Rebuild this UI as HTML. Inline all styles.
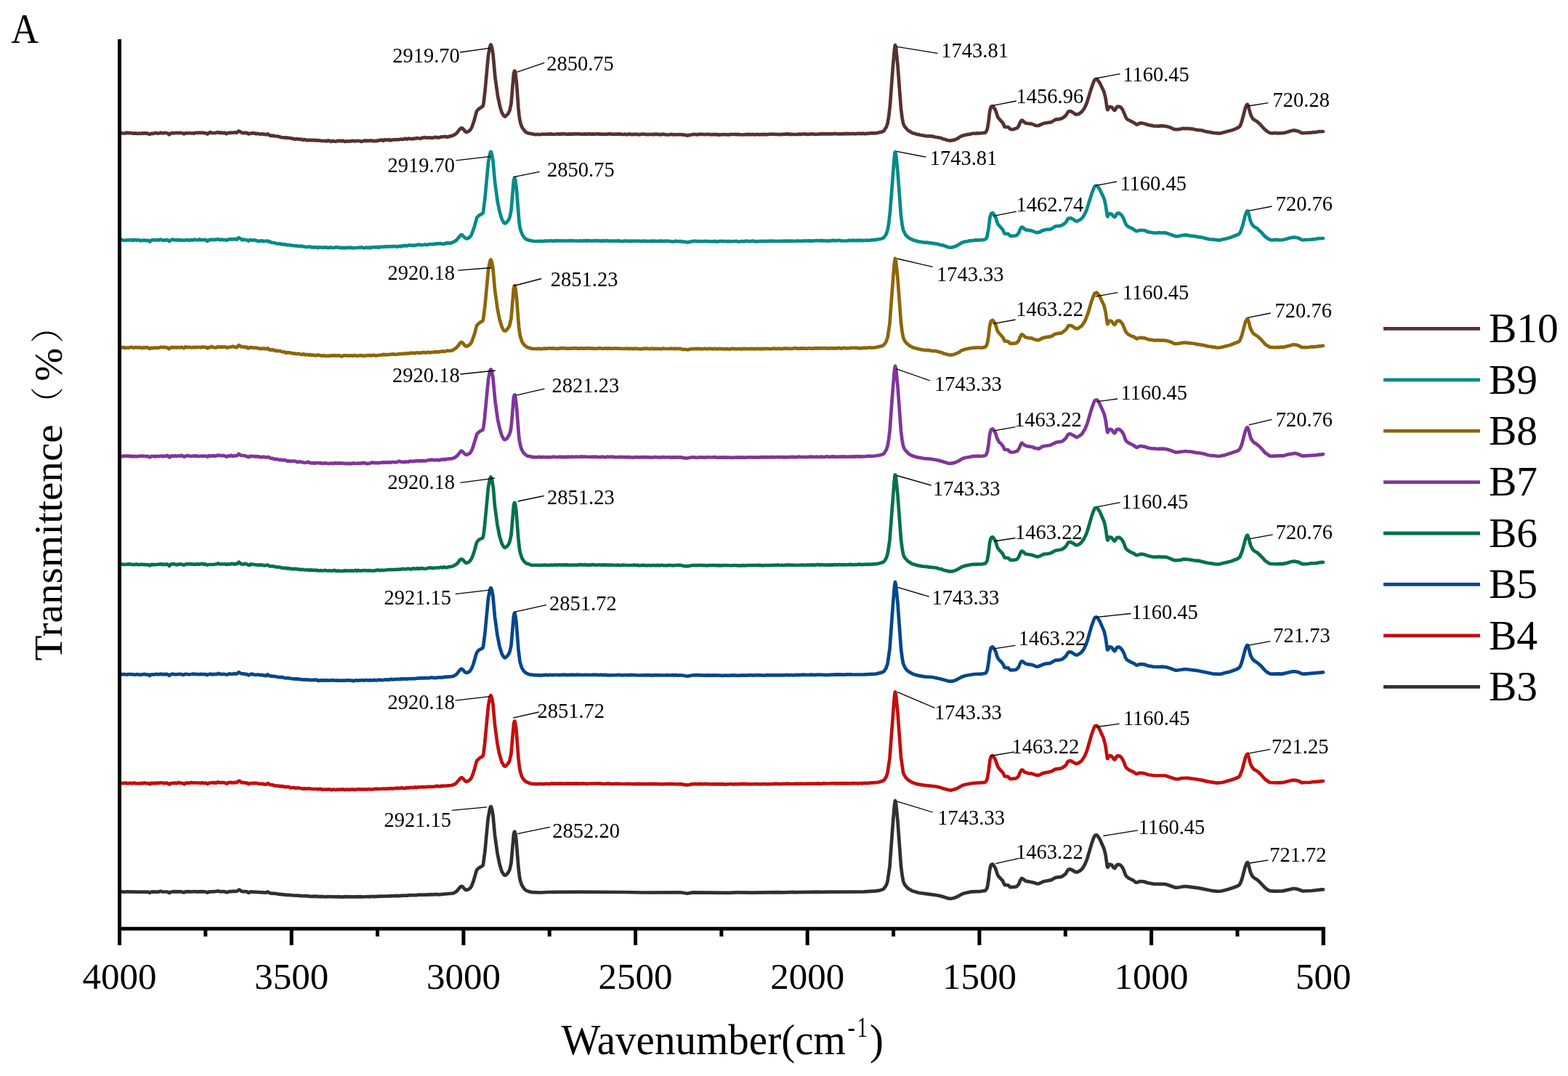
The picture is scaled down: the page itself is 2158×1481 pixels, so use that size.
<!DOCTYPE html>
<html><head><meta charset="utf-8"><style>
html,body{margin:0;padding:0;background:#fff;}
svg{display:block;}
text{font-family:"Liberation Serif","Noto Serif CJK SC",serif;fill:#000;}
</style></head><body>
<svg width="2158" height="1481" viewBox="0 0 2158 1481">
<rect width="2158" height="1481" fill="#fff"/>
<g fill="none" stroke-width="4.7" stroke-linejoin="round" stroke-linecap="round">
<path d="M165.0,183.3 167.0,183.0 168.5,183.5 172.5,183.3 174.0,182.6 176.5,183.3 178.0,182.8 183.0,183.6 186.0,183.4 189.5,183.9 191.0,183.5 193.5,183.9 196.5,183.2 198.0,183.8 200.5,183.1 202.0,183.9 203.5,183.7 206.0,185.0 207.5,183.8 211.5,183.8 214.0,182.8 215.0,182.9 216.5,183.8 219.5,183.3 221.0,182.6 224.0,183.5 227.0,182.7 231.0,183.5 232.5,185.2 233.0,185.3 234.5,183.8 236.5,182.8 239.0,183.4 242.5,182.8 246.0,183.2 247.5,182.7 251.5,183.3 253.0,184.4 255.5,183.1 258.0,183.5 260.0,183.0 263.0,183.5 265.0,183.2 267.0,183.8 268.5,182.7 270.0,183.0 271.5,182.5 273.0,183.0 275.0,182.5 277.5,183.0 279.0,182.6 282.0,183.4 283.5,183.2 285.5,184.5 289.5,181.8 291.0,182.9 295.5,183.2 300.0,181.9 302.0,183.1 303.5,182.4 307.5,183.1 309.5,182.6 311.5,184.2 313.5,183.0 315.0,183.1 316.5,182.6 318.0,182.9 319.0,182.5 320.5,182.7 323.0,182.2 325.5,182.8 328.5,180.4 334.0,183.1 336.0,183.2 337.5,182.5 338.5,183.2 340.0,182.9 342.0,184.5 344.0,183.5 345.5,183.9 348.0,182.9 349.5,183.7 351.0,183.4 352.5,184.4 354.0,183.7 356.0,184.0 357.5,184.8 361.0,184.2 362.5,184.9 364.0,184.7 366.0,185.4 368.5,184.3 370.5,186.1 372.5,186.4 373.0,186.9 374.0,187.0 375.5,186.5 377.5,187.3 382.0,187.5 387.0,189.1 391.5,189.3 393.0,189.7 394.5,189.4 397.0,190.0 398.0,189.8 401.0,190.6 403.0,190.5 404.0,191.1 406.5,191.6 408.5,190.9 409.5,191.6 412.5,191.6 414.0,192.1 415.5,191.8 417.0,192.6 418.5,191.9 420.0,192.5 421.0,192.4 422.5,193.3 424.5,192.6 428.0,193.1 429.5,192.8 431.0,193.1 434.0,192.9 436.0,193.4 437.5,193.2 444.0,194.0 447.5,193.9 448.5,194.4 452.5,193.4 455.5,194.8 457.5,193.8 459.0,194.4 462.5,194.6 464.5,193.8 466.0,194.1 468.5,193.6 470.5,194.3 472.5,193.7 474.5,194.9 477.0,194.2 478.5,194.7 482.0,194.1 483.5,194.3 485.5,193.7 488.0,194.4 491.0,193.8 495.5,194.0 497.0,194.9 502.0,193.4 505.0,194.1 506.5,193.6 508.0,193.9 511.0,193.3 512.5,194.2 515.5,193.8 518.5,194.2 520.0,193.2 521.5,193.5 523.0,192.9 525.0,192.7 526.0,192.7 527.5,193.7 529.5,192.3 534.0,192.6 536.0,192.2 537.5,193.4 539.0,192.7 542.5,192.0 544.0,192.5 546.5,192.0 549.0,192.2 551.5,191.5 554.0,192.0 557.5,190.8 558.5,190.9 560.0,191.6 562.0,190.6 568.0,191.3 570.0,190.5 572.5,190.7 574.0,190.0 579.0,190.8 580.5,189.9 584.5,189.1 588.5,189.8 591.0,189.3 592.5,189.8 594.5,189.5 595.5,189.9 599.0,188.7 601.0,189.4 602.5,189.1 603.5,189.5 606.0,188.7 613.5,187.9 616.0,188.7 617.0,188.1 622.5,186.9 626.0,185.2 629.0,182.9 632.5,178.0 635.0,176.2 636.0,176.3 637.0,177.1 640.5,181.1 641.5,181.8 643.0,181.7 645.0,180.7 647.5,178.5 649.5,174.8 652.5,166.2 656.0,153.2 658.5,150.2 664.5,146.3 665.5,142.5 667.5,125.5 672.0,76.3 674.0,65.3 675.0,62.1 675.5,61.5 676.0,61.9 677.0,65.2 678.5,74.0 681.5,107.2 685.0,131.9 688.0,146.1 690.5,154.7 693.0,158.9 694.0,160.0 695.0,160.5 699.0,157.0 701.5,152.0 703.5,142.7 707.0,101.1 708.0,97.8 708.5,97.6 709.5,102.1 711.0,114.7 713.5,149.4 714.5,158.8 715.5,165.8 717.0,171.4 719.0,176.3 723.5,181.8 727.0,183.4 737.5,185.3 740.5,184.8 743.0,185.2 747.0,184.5 750.5,184.8 757.5,184.3 762.5,185.0 767.0,184.2 768.5,184.7 770.5,184.4 772.0,184.7 774.0,184.1 781.5,184.9 783.5,184.3 788.0,184.7 790.0,184.1 791.5,184.4 797.5,184.3 800.5,184.8 805.5,184.4 808.0,184.8 810.0,184.1 813.0,184.8 815.0,184.4 819.5,184.6 823.5,184.2 825.0,184.7 829.0,184.5 830.5,185.0 833.0,184.5 834.5,184.8 839.5,184.1 842.0,184.8 853.5,184.4 855.0,184.9 857.5,185.0 860.0,184.6 861.5,185.1 863.5,185.2 866.0,184.3 869.5,185.2 876.0,184.6 878.0,185.3 883.5,184.6 887.5,184.7 889.5,185.3 892.0,184.8 893.5,185.2 896.0,184.8 899.0,185.3 900.5,184.7 907.0,184.9 909.0,185.5 911.5,184.7 915.0,185.0 916.5,185.5 921.0,185.4 924.0,184.8 927.5,185.3 936.5,185.0 940.0,185.6 941.5,185.4 945.5,186.6 955.0,184.7 959.0,185.4 963.0,184.7 971.5,185.1 974.0,184.7 979.0,185.3 980.5,185.0 983.5,185.2 985.0,184.9 986.5,185.3 988.0,185.1 990.0,185.6 994.5,185.0 1003.5,185.4 1005.5,184.8 1007.0,185.0 1011.5,184.8 1013.0,185.2 1015.0,184.9 1021.0,185.5 1029.5,184.8 1034.5,185.2 1036.0,184.9 1037.0,185.2 1038.5,185.0 1040.0,185.4 1042.0,184.7 1044.0,185.3 1051.0,184.8 1055.5,185.2 1061.0,184.5 1073.0,185.2 1084.5,184.4 1087.5,185.1 1089.0,184.7 1091.5,185.0 1098.5,184.8 1099.5,184.4 1101.0,184.9 1102.5,184.6 1104.0,184.8 1107.0,184.3 1111.0,184.8 1118.0,184.3 1120.5,184.8 1126.0,184.7 1131.5,184.1 1146.0,184.4 1149.0,183.9 1153.0,184.3 1156.5,184.2 1158.0,184.5 1160.0,184.0 1161.5,184.4 1163.0,183.8 1173.0,184.2 1174.5,183.8 1176.0,184.3 1182.0,183.6 1185.0,184.1 1187.0,183.6 1190.0,184.1 1193.0,183.9 1194.5,183.4 1196.0,183.8 1198.5,183.2 1203.5,183.3 1208.5,182.8 1211.5,181.8 1213.0,181.7 1215.5,180.8 1216.5,180.0 1220.0,174.6 1221.5,169.9 1223.0,161.8 1225.0,144.9 1228.5,96.7 1231.0,67.9 1232.0,62.0 1233.0,65.8 1235.5,89.7 1240.0,149.5 1241.5,161.4 1243.0,169.7 1245.0,174.1 1249.5,179.3 1256.0,183.3 1258.0,183.5 1261.5,184.8 1265.0,185.2 1266.5,186.0 1269.0,186.1 1276.5,187.5 1278.5,187.2 1285.0,187.9 1286.5,188.5 1295.5,190.0 1297.5,191.2 1300.5,191.7 1304.0,193.0 1308.0,193.6 1314.0,192.4 1318.5,190.3 1320.5,188.7 1325.0,186.6 1331.0,185.2 1335.5,184.6 1337.5,183.9 1340.5,183.5 1343.0,184.0 1345.0,183.0 1346.5,183.6 1348.0,183.5 1356.0,182.6 1358.0,179.9 1359.0,176.7 1360.5,167.6 1362.0,154.7 1363.0,149.6 1364.0,146.8 1365.5,146.0 1367.0,146.7 1370.0,151.6 1373.5,161.8 1380.5,169.6 1382.5,174.7 1387.5,174.9 1390.5,177.7 1392.5,178.1 1395.5,177.8 1400.0,176.1 1402.0,173.5 1404.0,168.6 1406.0,165.6 1407.5,166.0 1411.0,169.2 1416.0,170.2 1419.5,170.4 1425.5,172.8 1429.0,173.0 1436.0,169.8 1447.0,168.1 1451.5,165.1 1453.5,164.2 1456.0,164.4 1461.5,163.0 1465.5,160.3 1467.5,158.1 1470.0,153.9 1471.5,153.2 1472.5,152.9 1474.0,153.3 1481.0,157.7 1484.0,157.0 1486.0,156.1 1489.0,153.6 1491.5,150.3 1493.5,146.8 1496.0,141.0 1501.0,124.6 1505.0,113.1 1506.5,109.9 1508.5,108.8 1509.5,109.1 1511.0,110.5 1514.0,114.9 1519.5,126.5 1521.5,134.7 1524.0,150.7 1524.5,151.1 1526.5,147.4 1527.5,147.0 1530.5,147.8 1533.0,151.3 1534.0,151.9 1535.0,151.0 1536.5,147.9 1537.5,146.7 1541.5,146.9 1543.5,148.7 1545.0,150.9 1550.0,162.7 1552.0,164.5 1560.5,168.9 1564.0,171.3 1565.0,171.4 1567.5,170.1 1570.5,169.3 1577.0,170.8 1579.5,171.8 1581.0,171.9 1584.0,172.8 1585.5,172.7 1587.0,173.3 1595.5,173.6 1598.0,173.1 1605.0,173.8 1611.5,175.7 1615.0,177.6 1618.0,178.2 1621.0,178.2 1628.5,176.7 1630.0,177.1 1631.5,176.8 1638.5,177.2 1643.5,177.9 1645.5,178.6 1655.5,179.7 1657.5,180.6 1670.0,182.9 1678.0,183.6 1680.0,183.3 1696.5,178.9 1701.0,177.1 1706.0,174.4 1707.5,171.6 1709.0,167.3 1714.0,148.4 1715.5,145.0 1716.5,143.7 1717.0,143.8 1718.0,146.0 1721.5,158.6 1724.0,163.1 1725.0,164.2 1729.5,166.9 1734.0,170.7 1740.0,177.5 1743.5,180.6 1745.5,181.9 1748.5,183.2 1753.0,183.3 1755.0,182.9 1757.5,183.4 1762.0,183.3 1763.5,183.0 1766.0,183.2 1773.5,181.3 1775.5,180.4 1781.0,179.4 1786.0,180.4 1789.0,181.5 1790.5,182.7 1792.5,183.3 1795.0,182.9 1799.5,183.0 1801.0,182.6 1805.0,182.6 1807.5,181.9 1809.5,182.2 1814.5,181.2 1821.0,181.0" stroke="#553232"/>
<path d="M165.0,329.7 167.0,329.6 169.5,331.0 180.0,330.1 182.5,331.1 184.0,329.9 185.0,330.3 186.5,330.0 188.0,330.9 190.0,330.2 191.0,330.3 193.5,331.4 195.5,330.6 197.0,331.0 198.5,330.6 202.5,331.1 204.0,330.8 206.0,332.6 208.5,330.6 210.5,330.1 213.0,330.5 215.5,330.2 218.5,330.6 220.0,329.7 221.5,329.6 224.0,330.8 230.5,330.2 233.0,332.3 235.0,330.6 237.0,329.7 239.0,329.8 240.5,330.5 244.0,330.1 245.5,330.6 248.0,330.1 249.5,330.7 252.0,330.5 253.0,331.0 258.0,330.0 260.5,331.1 262.5,330.0 265.0,330.6 267.5,329.5 269.5,330.2 273.0,330.3 274.5,329.1 276.5,330.4 283.0,329.9 284.5,331.6 285.5,332.0 287.5,330.3 289.0,330.2 290.5,329.6 292.0,330.1 293.5,329.7 295.0,330.2 296.5,329.7 298.5,329.7 300.0,329.0 302.5,330.1 305.5,329.6 308.0,330.2 310.5,330.2 312.0,330.9 314.0,329.7 316.0,329.2 317.5,329.4 319.5,329.1 321.5,329.4 324.0,328.9 326.0,329.9 327.5,327.9 328.5,327.3 330.5,328.1 333.0,330.3 335.5,329.4 336.5,330.0 340.0,330.4 342.0,331.6 344.0,330.1 347.5,330.7 350.0,330.3 354.5,331.8 359.0,331.7 360.5,331.3 363.0,332.2 368.0,331.5 369.0,331.9 370.0,333.0 371.5,332.6 373.5,333.8 376.5,334.0 383.0,335.7 385.0,335.2 388.0,336.3 389.0,336.1 391.0,336.6 393.0,336.3 394.5,337.3 398.5,337.0 400.0,337.8 401.5,337.7 405.5,338.5 407.0,338.1 409.5,338.8 414.5,338.7 416.0,339.3 417.5,339.0 419.0,339.6 423.0,340.0 425.0,339.6 427.0,339.7 429.0,340.5 430.5,340.2 431.5,340.7 434.5,340.1 437.5,341.2 439.0,340.2 443.0,340.8 448.0,340.3 449.5,340.9 451.5,340.7 453.0,341.1 455.0,340.3 456.5,340.9 460.0,341.0 462.5,340.1 465.5,340.7 467.0,340.5 469.0,341.4 470.5,340.9 472.5,341.2 473.0,340.9 475.5,341.5 477.5,340.6 481.0,341.2 482.5,340.5 484.0,341.1 486.0,341.1 487.5,341.5 489.0,341.0 492.5,341.0 494.0,340.5 495.5,340.9 498.0,340.2 499.5,341.0 502.0,341.4 503.5,340.7 505.5,340.7 507.0,341.2 508.5,340.5 510.5,341.3 512.5,340.0 515.0,340.5 516.5,340.1 519.0,340.5 520.0,339.8 521.5,340.8 523.5,339.6 526.5,339.9 529.5,339.3 531.0,339.9 532.5,339.3 536.0,339.3 537.0,339.0 538.5,339.4 540.5,339.3 542.0,338.8 546.0,339.6 549.5,338.9 551.5,339.4 553.5,338.2 556.0,338.6 557.5,337.6 559.0,338.3 560.5,338.5 563.0,337.1 564.5,337.8 568.0,337.6 570.0,338.2 572.0,337.4 577.0,336.6 580.0,337.5 584.0,336.7 586.0,336.7 587.5,337.2 589.0,336.5 591.0,336.2 593.5,336.0 596.0,336.4 597.5,335.6 599.5,336.0 601.0,335.4 606.5,335.2 609.0,335.8 613.0,335.3 614.5,334.3 619.5,334.7 623.5,333.4 628.0,330.9 633.5,324.1 635.0,323.0 636.5,323.7 639.0,326.5 641.5,328.4 644.0,328.1 647.5,325.4 649.0,322.8 652.5,313.2 656.5,299.2 659.0,296.6 664.0,293.9 665.0,292.4 667.5,272.4 672.0,223.8 674.0,212.7 675.0,209.5 675.5,209.0 676.0,209.5 677.0,212.7 678.5,221.0 681.0,249.6 684.5,275.8 687.0,288.9 690.5,301.4 693.5,306.6 694.5,307.3 695.5,307.3 696.5,306.8 699.0,304.0 700.5,301.6 701.5,299.0 703.5,289.8 707.0,248.1 708.0,245.0 708.5,244.8 709.5,249.1 711.0,262.0 714.5,305.7 715.5,312.6 717.0,318.5 719.5,324.0 721.5,326.8 724.0,329.2 727.5,330.6 734.5,332.0 741.5,332.1 743.0,331.8 747.5,332.2 750.0,331.6 755.5,331.7 758.5,331.2 762.5,331.9 764.0,331.3 782.0,331.5 785.0,331.1 791.0,331.5 797.5,331.6 798.5,331.3 801.0,331.8 803.5,331.2 807.0,331.6 809.0,331.1 813.5,331.6 823.0,331.2 827.0,331.9 828.5,331.3 833.0,331.7 835.0,331.1 837.0,331.7 844.0,331.6 845.0,331.9 852.0,331.4 853.5,332.0 857.0,332.2 858.5,331.7 862.5,331.6 864.5,332.0 867.5,331.6 869.5,332.1 873.0,331.5 875.0,331.9 880.0,331.5 881.5,332.3 886.0,331.6 889.0,332.1 890.5,331.8 892.0,332.0 895.0,331.8 896.5,332.2 898.0,331.7 906.0,332.1 909.0,331.6 914.5,332.1 916.5,331.5 918.0,331.9 920.0,331.7 925.5,332.6 927.5,332.5 930.0,331.7 932.0,332.4 936.5,332.0 939.5,332.9 941.0,332.5 945.0,333.4 947.0,333.4 954.5,331.9 957.5,331.9 959.0,332.3 960.5,331.9 963.0,332.4 964.5,332.0 966.5,332.3 970.5,331.8 976.5,332.3 984.5,332.1 987.0,332.6 992.0,331.7 994.0,332.2 1000.0,332.1 1001.5,332.5 1003.0,331.9 1004.5,332.5 1010.0,332.0 1011.5,332.3 1013.5,331.9 1016.5,332.7 1022.0,332.0 1023.5,332.5 1027.0,331.6 1031.5,332.3 1036.5,331.6 1039.0,332.4 1052.5,331.9 1055.0,332.3 1056.5,331.8 1058.0,332.0 1060.0,331.6 1070.5,332.0 1072.5,331.7 1074.5,332.0 1078.5,331.6 1084.0,331.8 1085.0,331.5 1087.0,331.9 1090.5,331.6 1092.0,332.0 1097.5,331.5 1103.0,331.9 1104.5,331.5 1107.5,331.6 1109.0,331.2 1111.5,331.7 1114.0,331.4 1118.0,331.6 1124.5,331.0 1128.0,331.5 1130.0,330.9 1132.0,331.4 1135.0,331.2 1137.5,331.7 1139.0,331.3 1140.5,331.6 1146.5,330.9 1151.5,331.3 1153.0,330.9 1155.5,330.9 1157.5,331.3 1166.0,331.5 1169.0,330.7 1172.0,331.2 1174.0,330.6 1176.5,331.2 1179.5,330.8 1181.0,331.1 1182.5,330.6 1185.0,331.2 1186.0,330.9 1188.0,331.1 1194.0,330.7 1196.0,331.0 1199.5,330.3 1202.5,330.4 1212.5,328.8 1216.5,327.0 1219.5,322.6 1221.5,316.9 1223.0,309.0 1225.0,291.7 1230.5,220.3 1231.5,210.6 1232.0,209.1 1232.5,210.1 1233.5,216.6 1235.5,236.4 1240.0,296.5 1241.5,308.4 1243.0,316.5 1246.5,323.5 1250.0,326.7 1253.5,328.9 1258.0,331.0 1260.0,331.1 1261.5,331.9 1266.0,332.9 1269.0,333.1 1271.5,333.8 1274.5,333.7 1287.0,335.3 1291.0,336.1 1295.5,337.5 1297.0,337.3 1305.0,340.2 1307.5,340.6 1311.0,340.3 1315.0,339.0 1318.0,337.6 1323.0,334.4 1328.0,332.5 1331.0,332.3 1334.0,331.4 1339.0,331.2 1342.5,330.4 1346.0,330.6 1348.5,330.2 1350.0,330.5 1355.5,329.7 1357.0,328.5 1358.5,325.8 1360.5,314.6 1362.5,298.9 1364.0,294.1 1366.0,292.9 1367.0,293.8 1370.5,299.5 1372.0,305.1 1373.5,308.7 1380.0,316.0 1382.5,321.6 1387.5,321.8 1390.0,324.4 1391.0,324.8 1397.0,324.5 1399.5,323.6 1402.0,320.8 1404.0,315.6 1405.5,313.1 1406.5,312.5 1408.0,313.2 1411.0,316.1 1420.0,317.6 1426.5,320.1 1427.5,320.1 1431.0,319.4 1435.0,317.1 1441.0,315.8 1445.0,315.8 1447.0,315.0 1452.5,311.5 1455.5,311.0 1457.5,311.3 1459.0,310.6 1461.0,310.4 1466.0,307.0 1467.5,305.1 1469.5,301.5 1470.5,300.6 1473.5,300.2 1477.5,302.1 1480.0,304.1 1482.0,304.7 1487.5,301.8 1489.5,299.9 1492.0,296.2 1495.5,288.9 1502.5,266.6 1506.0,257.5 1507.0,256.1 1509.5,255.7 1511.5,257.6 1513.5,260.8 1518.0,269.9 1520.0,274.9 1521.5,281.5 1524.0,297.7 1524.5,298.0 1526.5,294.2 1527.0,293.9 1530.0,294.7 1532.5,297.8 1534.0,298.8 1535.0,297.8 1537.5,293.7 1539.0,293.4 1541.0,293.9 1543.0,295.4 1544.5,297.3 1546.5,301.1 1549.0,307.7 1550.5,310.0 1553.0,312.1 1559.0,314.8 1562.5,317.5 1564.0,318.2 1568.5,316.9 1574.5,317.0 1576.0,317.3 1579.5,319.1 1588.0,320.5 1591.5,320.7 1595.0,320.0 1596.5,320.5 1602.5,320.4 1605.0,320.7 1618.0,325.3 1622.0,325.2 1626.5,324.0 1632.0,323.4 1640.0,324.9 1643.0,324.8 1647.5,325.9 1654.0,326.7 1664.5,329.4 1669.5,329.6 1677.5,330.7 1680.0,330.4 1683.0,329.3 1685.0,329.2 1693.0,327.0 1704.0,322.8 1706.0,321.2 1707.0,319.6 1710.0,311.3 1714.0,295.7 1716.0,290.9 1717.0,290.3 1718.5,294.1 1721.0,304.2 1723.5,309.4 1726.0,312.0 1730.5,314.5 1733.5,317.7 1736.0,319.7 1740.5,325.0 1746.0,329.1 1750.0,330.4 1757.0,329.9 1761.5,330.5 1766.0,330.0 1777.5,327.0 1782.5,326.7 1787.5,327.8 1792.0,330.1 1794.5,330.3 1797.0,329.8 1800.0,330.0 1810.5,329.2 1813.5,328.3 1821.0,328.0" stroke="#058a8a"/>
<path d="M165.0,478.0 167.5,478.4 170.0,477.9 171.5,479.1 173.0,478.5 177.0,478.6 181.0,477.7 183.5,478.6 185.5,478.6 187.0,478.1 188.5,478.5 191.5,478.2 196.5,478.8 198.0,478.2 199.5,478.7 201.5,478.0 203.5,478.4 206.0,479.9 208.5,478.6 211.0,479.1 213.0,478.5 214.5,478.9 216.0,478.5 217.5,478.9 221.5,477.7 224.0,478.2 226.5,477.9 230.5,478.5 232.5,480.2 233.0,480.1 234.5,478.7 236.5,477.8 238.5,478.4 241.0,478.0 242.5,478.7 244.0,478.0 247.5,478.4 249.5,477.9 251.0,478.1 253.0,479.4 255.0,477.3 255.5,477.3 257.0,478.0 258.5,478.2 260.0,477.7 262.5,478.3 268.0,477.9 270.0,478.3 272.0,477.8 275.0,478.0 276.0,478.4 278.0,477.6 280.5,477.5 282.0,478.0 283.5,477.8 285.0,479.1 286.0,479.4 287.5,478.0 289.5,478.1 291.5,476.8 293.0,477.9 296.0,478.5 298.0,478.3 300.0,477.2 302.0,477.9 304.0,477.3 307.0,477.6 308.5,477.4 310.5,477.5 312.5,478.8 314.5,477.8 319.0,477.4 320.5,476.7 325.5,478.4 326.5,477.7 328.0,475.6 329.0,475.1 332.0,477.4 334.0,477.1 338.5,478.1 339.5,477.7 341.5,479.3 344.0,478.1 348.5,478.6 352.0,478.5 355.0,479.4 357.0,479.5 358.5,480.2 359.5,479.8 361.5,480.0 363.0,479.3 365.0,480.2 366.0,480.3 367.0,480.1 368.5,479.2 370.5,481.5 372.0,481.1 373.5,481.8 376.0,481.4 379.5,483.2 381.0,482.5 383.5,483.2 385.0,483.0 388.0,484.1 391.5,484.4 393.5,485.7 395.0,485.1 396.5,485.5 397.5,485.1 400.5,486.1 402.0,486.0 403.0,486.6 404.5,486.4 409.0,487.2 411.0,486.7 414.5,488.2 417.5,487.2 420.0,488.4 422.5,487.9 425.0,488.8 426.5,487.9 428.0,488.9 431.0,488.6 432.5,489.3 434.0,489.0 435.5,489.3 437.5,488.4 441.5,489.6 446.0,489.3 447.5,489.9 450.0,489.9 451.5,489.5 453.5,490.0 456.0,489.3 458.0,489.6 459.0,489.2 463.0,489.7 466.5,489.2 470.5,490.6 473.5,489.2 476.0,489.5 477.5,489.2 480.0,489.8 481.0,489.4 482.5,489.7 484.0,489.3 486.0,489.8 488.0,488.9 490.5,489.9 497.5,489.1 500.0,489.9 506.0,489.1 507.5,489.0 509.0,489.5 510.5,488.9 512.0,489.4 514.5,488.8 517.5,489.7 521.0,488.8 525.5,488.6 527.0,487.8 529.0,488.4 531.0,487.9 532.5,488.3 541.5,487.4 545.0,488.0 550.5,486.9 552.5,487.1 557.0,486.7 558.5,487.0 561.0,486.1 563.5,486.5 565.5,485.5 567.5,486.2 569.5,485.7 571.0,486.3 572.0,485.7 574.5,485.3 577.0,486.0 578.5,485.3 579.5,485.6 581.5,485.4 583.0,484.8 584.5,485.4 587.5,485.3 589.5,484.7 591.5,485.3 597.0,484.6 598.5,484.0 600.0,484.7 602.5,484.1 604.0,484.4 606.5,484.1 608.5,483.4 611.5,483.9 616.0,482.6 617.5,483.0 622.0,482.4 624.5,481.2 629.0,477.8 633.5,472.0 635.0,470.9 636.5,471.6 640.0,475.9 641.0,476.6 642.5,476.6 646.5,474.4 648.5,471.8 649.5,469.7 653.0,459.9 656.0,448.4 658.5,445.5 661.5,443.1 663.5,442.3 665.0,440.3 667.5,420.7 672.0,372.0 674.0,361.1 675.0,357.9 675.5,357.4 676.5,359.2 677.0,361.2 678.5,369.6 681.0,398.1 684.5,424.2 687.5,439.4 690.5,449.7 693.0,454.3 694.0,455.4 695.0,455.4 696.5,454.9 698.5,452.7 700.5,449.7 701.5,447.1 703.5,438.4 707.0,396.6 708.0,393.3 708.5,393.1 709.5,397.6 711.0,410.3 714.0,449.3 715.5,460.4 716.5,464.6 718.5,470.6 721.5,474.9 725.0,477.7 731.5,479.8 739.0,480.1 741.0,479.7 742.5,480.2 745.0,480.2 749.5,479.7 753.0,479.8 755.5,479.3 760.0,479.7 762.0,479.3 764.0,479.8 767.5,479.8 774.0,479.1 782.5,479.8 784.0,479.4 788.0,479.7 790.5,479.1 793.5,479.3 795.0,479.9 799.5,479.4 805.5,479.6 809.0,479.2 812.5,479.7 813.5,479.4 819.0,479.8 822.5,479.7 824.5,479.2 829.0,479.8 834.5,479.3 836.0,479.9 838.0,479.4 842.0,479.9 843.0,479.6 849.5,479.5 851.0,479.9 852.5,479.5 856.0,480.0 863.0,479.6 867.0,480.1 868.5,479.7 871.0,480.2 872.5,479.6 881.5,480.3 888.5,479.7 894.5,480.1 898.0,479.7 899.5,480.3 901.0,479.9 904.0,480.1 905.5,479.8 909.5,480.5 912.5,479.6 914.0,480.0 921.0,480.0 923.5,479.6 925.5,480.0 927.5,479.7 928.5,480.1 930.5,479.7 932.5,480.2 935.5,479.7 940.0,481.1 942.5,480.7 946.5,481.4 950.5,480.3 960.5,479.8 965.5,480.3 970.5,479.8 973.0,480.4 977.0,479.7 981.0,480.4 983.0,479.9 987.0,480.3 989.0,479.9 996.0,480.4 1001.5,480.2 1004.0,480.8 1007.5,479.8 1013.0,480.3 1018.0,480.0 1020.0,480.6 1023.0,479.9 1024.5,480.3 1026.0,479.8 1028.5,480.2 1033.0,480.2 1034.5,479.8 1038.5,480.3 1041.5,479.9 1044.0,480.2 1046.0,479.9 1048.0,480.4 1050.5,479.8 1053.5,480.2 1056.5,479.7 1059.5,480.3 1066.0,479.6 1068.5,480.1 1072.0,479.7 1076.5,480.1 1078.5,479.7 1080.0,479.8 1081.5,479.3 1083.5,479.9 1090.5,479.8 1092.0,479.4 1095.0,479.3 1100.0,479.9 1102.0,479.4 1104.5,479.7 1106.0,479.4 1110.5,479.9 1113.5,479.3 1117.5,479.8 1119.5,479.4 1121.5,479.6 1123.0,479.1 1125.0,479.6 1128.0,479.2 1129.5,479.4 1137.0,479.2 1139.0,479.7 1142.0,479.3 1152.0,479.4 1154.0,478.9 1157.5,479.6 1162.0,478.8 1164.0,479.4 1170.5,479.1 1172.0,478.5 1174.5,479.0 1177.5,478.7 1179.0,479.1 1180.5,478.8 1182.0,479.3 1186.0,479.3 1187.5,478.8 1190.5,478.6 1192.0,479.0 1196.5,478.2 1198.0,478.6 1204.5,478.3 1213.5,476.4 1216.0,475.0 1219.0,471.5 1221.5,464.8 1224.5,445.1 1229.0,384.9 1231.0,361.4 1232.0,355.7 1233.0,359.3 1235.5,383.4 1240.0,443.9 1241.5,455.9 1243.0,464.2 1244.0,467.0 1245.5,469.7 1248.0,472.6 1251.0,475.2 1256.5,478.4 1268.0,481.3 1270.5,481.4 1272.5,482.0 1275.5,482.2 1277.0,481.9 1282.0,482.9 1288.0,483.2 1297.0,485.6 1299.5,486.9 1301.0,487.0 1303.0,487.8 1308.0,488.6 1313.0,487.9 1320.0,484.8 1323.0,482.6 1330.5,480.1 1333.0,479.9 1334.5,479.3 1341.0,478.6 1343.5,478.7 1345.0,478.3 1351.5,478.6 1356.0,477.6 1358.0,475.0 1359.0,471.8 1360.5,462.8 1362.0,449.7 1363.0,444.7 1364.0,441.9 1366.0,440.7 1367.0,441.5 1370.0,446.3 1372.0,453.1 1373.5,456.8 1380.5,464.8 1382.5,469.4 1387.5,470.0 1390.0,472.6 1391.0,472.9 1398.5,472.3 1399.5,471.6 1402.0,469.0 1404.0,463.6 1406.0,460.3 1408.0,461.1 1411.0,464.0 1417.0,465.5 1419.0,465.2 1424.0,467.2 1428.5,468.2 1431.0,467.4 1435.5,464.9 1437.5,464.8 1440.5,463.8 1442.5,464.1 1444.0,463.4 1446.0,463.5 1452.0,459.8 1458.0,458.6 1460.5,458.7 1466.0,454.7 1467.5,453.0 1470.0,449.0 1471.0,448.1 1474.0,448.0 1476.5,449.4 1478.5,451.0 1481.5,452.4 1483.5,452.1 1489.0,448.3 1493.5,441.4 1497.5,430.9 1502.5,413.9 1505.5,405.9 1506.5,403.9 1509.5,402.7 1513.5,407.7 1519.5,420.8 1521.5,429.0 1524.0,445.7 1524.5,446.1 1526.5,441.9 1527.0,441.5 1530.0,442.3 1533.0,446.3 1534.0,446.9 1535.0,445.8 1537.0,442.1 1539.0,441.3 1541.0,441.5 1544.5,445.1 1549.5,456.7 1551.0,458.7 1553.0,460.3 1557.5,462.7 1559.5,463.0 1564.5,466.4 1567.0,465.2 1570.5,464.6 1572.5,465.2 1574.0,465.1 1582.5,467.7 1584.5,467.6 1590.0,468.7 1592.5,468.2 1597.0,468.7 1599.0,468.3 1605.0,468.8 1612.5,471.1 1614.5,472.2 1617.5,473.2 1621.5,473.0 1625.0,472.1 1626.5,472.2 1629.0,471.6 1632.0,471.6 1644.0,473.0 1648.0,474.1 1650.5,474.0 1652.5,474.7 1654.5,474.8 1663.5,476.9 1667.0,477.0 1670.0,477.9 1672.0,477.9 1674.5,478.5 1678.5,478.5 1693.0,475.0 1705.5,470.0 1706.5,468.5 1709.0,462.1 1714.0,443.4 1716.0,439.5 1717.0,438.7 1719.0,444.2 1721.0,452.4 1724.5,458.7 1731.0,463.1 1735.5,467.2 1741.0,473.5 1743.0,475.2 1745.5,476.3 1747.0,477.6 1755.5,478.3 1758.0,477.9 1760.0,478.4 1762.0,477.7 1766.0,477.9 1777.0,475.2 1779.0,474.4 1783.0,474.5 1785.5,475.1 1789.0,476.5 1791.0,477.8 1794.5,478.2 1802.5,477.8 1806.0,477.1 1809.0,477.3 1821.0,475.9" stroke="#8c6608"/>
<path d="M165.0,627.5 168.5,628.3 170.0,627.6 177.5,627.7 179.0,628.4 180.5,627.7 182.5,628.4 185.0,627.9 187.0,628.3 191.5,627.9 192.5,627.5 196.0,627.9 197.5,627.5 200.0,628.2 203.0,627.8 206.0,629.4 209.0,627.8 211.0,628.2 212.5,628.0 214.0,628.6 216.5,627.8 218.5,628.1 222.0,627.5 224.0,628.3 226.0,627.6 227.5,628.0 230.0,626.9 231.0,627.3 233.0,629.5 233.5,629.5 235.0,628.0 237.0,627.3 238.5,628.0 240.0,627.3 241.0,627.2 243.0,628.0 244.0,628.0 245.5,627.2 248.5,627.7 250.0,626.7 253.5,628.8 255.0,628.3 256.5,627.1 259.0,627.1 261.0,627.9 263.0,628.0 265.0,627.5 266.5,627.7 270.0,627.3 272.0,627.9 275.0,628.0 277.5,627.5 279.0,628.0 281.0,627.4 282.0,627.8 283.5,627.7 285.5,628.8 287.5,627.2 290.5,628.0 292.0,627.1 296.5,627.7 300.0,626.6 303.0,626.8 305.5,627.5 307.0,626.9 309.5,627.5 312.0,628.7 314.0,627.4 316.5,627.8 318.5,626.6 320.5,628.0 321.5,627.9 323.0,627.0 324.5,627.5 326.5,627.0 328.5,624.7 332.0,626.9 337.0,627.2 342.5,629.2 344.5,627.8 349.0,628.0 351.0,628.6 352.5,628.0 355.0,628.7 356.5,628.4 359.5,629.4 360.5,629.3 362.0,628.5 363.0,629.0 364.0,628.8 366.5,629.9 369.0,628.9 370.0,629.2 372.5,630.9 374.5,630.8 379.0,632.3 380.5,631.7 385.5,633.2 387.0,632.7 388.5,633.4 391.5,633.2 394.0,633.8 395.5,634.6 399.0,634.4 400.5,635.0 403.0,634.5 405.5,634.7 407.5,635.1 409.5,636.1 412.5,635.4 418.5,636.8 422.5,636.5 424.0,635.6 425.0,636.6 426.5,636.6 428.0,637.3 431.5,637.1 433.0,637.7 434.5,637.2 437.0,637.0 439.5,637.4 441.0,637.2 442.5,637.7 444.5,637.5 446.0,638.0 447.5,637.2 451.0,638.0 453.5,638.1 455.0,637.5 457.0,638.1 458.5,637.6 460.0,637.9 461.5,637.0 463.5,637.8 467.5,637.4 477.0,638.2 478.5,637.9 480.0,638.2 483.0,637.8 484.5,638.2 486.0,637.4 489.0,638.0 492.5,637.6 495.5,637.9 499.0,637.1 502.0,637.3 505.5,638.3 507.5,637.8 509.5,637.7 512.0,636.4 515.5,637.2 517.0,636.9 522.5,637.1 526.0,636.3 527.5,636.8 528.5,636.4 530.0,636.7 531.5,636.3 533.0,636.7 535.5,636.1 537.0,636.9 538.5,636.3 541.5,635.8 543.0,636.3 547.0,635.9 549.5,634.7 551.5,635.8 553.0,635.5 556.5,636.3 558.0,635.3 559.0,635.7 562.5,635.7 564.0,634.8 566.0,634.7 568.0,635.2 569.5,634.7 573.0,634.6 574.5,634.1 577.0,634.8 578.5,634.1 580.0,634.4 583.0,634.1 584.5,634.5 587.5,634.1 590.0,633.0 592.0,633.3 593.5,632.7 595.5,632.8 597.0,633.5 602.0,632.9 604.0,633.7 606.5,632.6 608.0,632.8 610.5,631.9 612.0,632.8 614.0,631.8 615.5,632.0 617.5,631.4 621.5,631.4 625.5,630.0 629.0,627.4 634.5,620.7 636.5,621.3 639.5,624.7 641.5,625.9 643.0,625.8 647.0,623.6 649.0,620.3 650.5,616.7 656.5,597.2 660.0,594.1 662.0,592.8 663.5,592.3 664.5,591.4 665.5,587.5 667.0,575.2 672.0,522.6 674.0,511.7 675.0,508.7 675.5,508.4 676.0,508.8 677.0,511.9 678.5,519.7 681.5,552.7 685.0,577.2 687.5,589.0 690.5,599.3 693.5,604.5 694.0,605.0 695.0,605.3 697.5,603.8 700.5,599.1 702.0,595.4 703.0,591.1 704.0,583.1 707.0,546.5 708.0,543.6 708.5,543.5 709.5,547.7 711.0,560.6 714.0,599.3 715.0,607.2 716.5,614.3 717.5,617.6 719.0,620.8 720.5,623.1 723.0,625.7 725.0,627.2 728.0,628.1 730.0,628.2 731.5,629.1 733.0,628.8 734.5,629.3 738.5,629.3 743.0,628.8 745.5,629.6 747.5,628.9 750.5,629.5 753.0,629.1 757.0,629.4 762.5,628.7 766.5,629.3 771.5,628.7 773.5,629.4 775.0,628.8 776.0,629.2 778.5,628.9 781.0,629.2 782.5,628.5 785.0,629.2 787.5,628.5 790.0,629.0 793.5,628.5 795.5,629.0 800.5,628.3 802.0,628.9 803.5,628.5 813.0,629.0 815.0,628.6 816.5,629.1 820.0,628.6 824.5,629.3 829.0,628.7 833.0,629.4 836.0,628.6 840.0,629.0 842.0,628.6 847.0,629.3 851.5,629.0 853.0,629.2 854.5,628.9 856.0,629.2 858.5,629.0 860.5,629.4 866.5,629.1 867.5,629.5 871.0,629.7 878.0,629.2 880.5,629.6 883.5,629.1 898.0,629.7 901.0,629.0 905.0,629.5 906.5,629.3 908.0,629.7 913.0,629.1 918.0,629.5 922.0,629.3 923.5,629.8 926.5,629.4 930.0,629.6 932.5,629.2 934.0,629.6 937.0,629.4 940.5,630.3 943.0,630.3 945.0,630.8 951.0,629.5 955.0,629.3 956.5,629.6 961.5,629.8 963.5,629.3 968.5,629.6 970.0,630.0 972.5,629.3 981.5,629.5 983.0,629.1 988.0,629.9 989.5,629.5 994.0,629.6 995.5,629.3 999.5,629.8 1001.0,629.5 1007.0,629.9 1018.0,629.4 1019.5,629.9 1022.0,629.4 1027.0,629.8 1030.0,629.3 1042.0,629.6 1043.5,629.2 1045.5,629.7 1050.0,629.1 1054.0,629.4 1055.5,629.1 1058.0,629.4 1064.0,629.1 1066.0,629.5 1070.5,629.0 1072.0,629.3 1076.5,629.0 1079.0,629.6 1081.0,629.1 1083.0,629.3 1091.0,628.9 1094.5,629.4 1100.0,628.7 1101.5,629.0 1111.0,629.1 1116.5,628.7 1121.0,629.0 1124.5,628.7 1126.5,629.0 1130.5,628.6 1134.0,629.2 1138.0,628.3 1141.0,628.9 1147.5,628.3 1149.5,628.9 1156.0,628.5 1160.0,628.7 1161.5,628.4 1165.0,628.8 1168.0,628.5 1172.5,628.7 1174.5,628.2 1176.0,628.9 1178.0,628.1 1180.5,628.5 1182.0,628.1 1183.5,628.7 1185.0,628.1 1189.0,628.5 1196.5,627.6 1198.5,627.9 1204.0,627.5 1211.0,626.5 1214.0,625.6 1216.5,624.3 1219.5,619.6 1221.5,614.0 1223.0,605.6 1224.5,593.8 1228.5,539.2 1231.0,509.5 1232.0,503.9 1232.5,504.8 1233.5,511.3 1235.5,531.7 1240.0,593.2 1241.5,605.3 1243.0,613.5 1244.5,617.3 1246.5,620.4 1251.5,625.2 1256.0,627.6 1262.5,629.4 1272.5,631.2 1280.5,631.7 1289.0,633.0 1293.0,634.3 1295.0,634.4 1304.5,637.6 1309.0,637.9 1314.5,636.6 1319.5,634.3 1325.0,631.0 1328.5,630.0 1336.0,628.8 1337.5,628.1 1347.0,627.7 1349.0,628.2 1356.0,627.0 1357.5,625.4 1359.0,621.0 1360.5,612.1 1362.0,599.2 1363.0,594.2 1364.0,591.3 1366.0,590.3 1367.0,591.1 1370.0,595.9 1372.0,602.6 1374.5,607.6 1376.0,609.4 1377.5,610.4 1380.5,614.3 1382.5,618.7 1387.0,619.0 1390.0,622.0 1391.0,622.5 1395.0,622.3 1400.0,620.9 1402.5,617.2 1405.0,611.3 1406.0,609.8 1406.5,609.7 1410.5,613.0 1411.5,613.4 1413.5,614.1 1420.0,615.0 1424.5,616.7 1429.5,617.7 1434.0,614.9 1436.5,614.0 1445.0,613.0 1453.5,608.8 1461.0,607.7 1464.0,605.9 1467.0,603.0 1470.0,598.1 1471.5,597.3 1473.0,597.2 1476.5,598.8 1481.5,601.9 1482.5,601.8 1487.0,599.1 1489.5,596.7 1493.5,590.0 1496.5,582.6 1502.0,563.6 1505.5,553.7 1507.0,551.0 1509.5,550.4 1510.5,551.1 1514.0,556.7 1519.5,569.4 1521.5,577.4 1524.0,594.7 1524.5,595.1 1526.5,591.4 1528.0,590.8 1530.0,591.5 1533.0,595.5 1534.0,596.2 1535.0,595.1 1537.0,591.0 1540.5,590.8 1544.5,594.4 1547.0,599.4 1549.0,605.4 1550.5,607.6 1553.0,609.4 1560.0,613.0 1564.0,615.8 1565.5,615.6 1567.5,614.5 1570.5,613.8 1572.0,614.4 1576.0,614.8 1580.0,616.5 1586.0,617.5 1589.0,617.4 1592.0,618.0 1596.0,617.6 1603.0,617.8 1609.5,619.4 1618.5,622.7 1632.0,621.0 1634.0,621.5 1639.0,621.6 1641.0,622.3 1643.0,622.2 1646.5,623.1 1650.0,623.3 1658.0,624.9 1662.0,626.3 1667.5,627.2 1669.5,627.0 1677.0,628.0 1680.5,627.5 1682.0,626.8 1684.0,626.9 1702.0,621.1 1705.0,619.4 1706.0,618.5 1707.5,615.7 1709.5,610.1 1714.0,593.0 1715.5,589.5 1716.5,588.3 1717.0,588.3 1718.5,591.9 1721.0,601.7 1722.5,605.1 1724.0,607.3 1726.5,609.6 1729.0,610.9 1730.5,612.4 1732.0,613.2 1737.0,618.3 1741.0,623.1 1742.0,623.9 1743.5,624.5 1747.0,627.4 1750.5,627.8 1752.0,627.4 1753.5,627.8 1757.5,627.4 1766.5,627.4 1770.5,626.0 1774.5,625.1 1783.0,623.9 1786.5,625.0 1792.5,627.7 1811.5,626.4 1816.5,625.6 1818.0,625.8 1821.0,625.1" stroke="#7f3699"/>
<path d="M165.0,777.0 167.5,776.7 173.0,777.0 177.5,776.4 183.0,777.2 186.0,777.0 187.5,776.5 191.0,777.4 194.0,776.8 204.0,777.3 206.0,778.4 208.5,776.8 209.5,777.3 210.5,776.9 212.0,777.3 222.0,776.4 223.5,777.2 225.5,776.6 228.5,777.0 230.0,776.3 231.0,776.9 233.0,779.0 235.0,776.8 236.5,776.3 239.0,776.3 243.5,777.4 245.0,776.8 249.0,776.4 253.0,777.8 255.0,776.9 257.0,776.4 263.0,776.4 267.0,776.9 271.5,776.4 273.5,776.9 278.5,775.9 280.5,777.0 282.5,776.3 285.5,777.8 287.0,777.0 295.0,776.8 298.5,776.2 300.5,775.4 302.5,776.5 310.0,776.4 312.0,777.1 314.0,776.2 316.5,776.7 319.0,775.8 322.5,776.6 323.5,776.1 326.5,776.1 328.0,774.1 329.0,773.6 331.5,776.1 334.0,776.6 338.0,775.9 343.0,778.2 345.0,776.4 346.5,777.0 348.0,776.7 354.5,777.7 356.5,777.4 360.5,777.6 364.0,778.5 368.5,777.5 371.0,779.4 376.5,779.4 379.5,780.5 385.0,780.6 388.0,781.7 390.0,781.5 392.0,782.2 394.0,781.7 395.5,782.6 397.5,782.1 398.5,782.7 402.0,783.1 406.5,782.9 414.0,784.1 416.0,783.7 419.0,784.5 425.0,784.4 426.0,785.0 428.0,784.3 430.0,784.9 432.0,784.5 434.0,785.2 436.0,784.7 438.0,785.5 442.5,785.2 444.0,785.5 448.0,784.9 450.5,785.8 453.5,785.3 457.0,785.8 460.5,784.9 462.0,785.9 466.5,785.6 468.0,786.0 472.0,786.1 474.0,785.3 481.5,785.6 485.0,785.4 486.5,785.9 489.0,784.9 491.0,786.0 492.5,784.9 496.0,785.7 502.5,785.0 507.0,785.6 508.5,785.1 510.0,785.5 515.0,785.6 517.5,784.9 520.0,784.7 524.0,785.2 525.5,784.6 527.5,785.0 535.0,784.0 541.0,784.2 543.5,783.8 546.0,784.0 547.0,783.6 548.5,783.9 551.5,783.7 554.0,782.9 558.5,783.5 560.0,782.9 564.0,782.9 565.5,783.6 568.5,782.4 571.0,782.9 573.0,782.8 574.5,782.2 576.0,782.9 580.5,782.1 583.5,782.8 587.0,782.5 591.5,781.3 595.5,782.1 599.5,781.5 603.5,781.5 607.0,780.7 609.0,781.3 611.0,780.3 613.0,781.2 615.0,781.2 617.5,780.2 621.0,780.0 624.0,779.1 628.5,776.3 630.0,774.9 633.0,770.7 634.5,769.6 635.5,769.6 637.0,770.4 640.5,774.4 641.5,774.9 644.0,774.3 646.5,772.5 648.5,769.9 650.5,765.4 653.0,757.9 656.0,746.6 658.5,743.4 661.5,741.6 663.5,740.9 664.5,740.0 665.5,736.0 667.0,723.8 672.0,670.9 674.0,660.1 675.0,657.1 675.5,656.6 676.5,658.2 677.0,660.1 679.0,672.3 681.0,696.9 684.5,722.6 687.5,737.8 690.5,747.9 693.0,752.4 694.0,753.5 695.0,753.7 697.0,752.7 698.5,751.2 700.5,748.1 701.5,745.5 703.5,736.6 707.0,695.4 708.0,692.0 708.5,691.9 709.5,696.3 710.5,704.1 713.5,742.6 715.0,755.9 716.0,761.1 718.5,768.5 720.0,771.0 722.5,774.0 725.0,775.8 729.0,776.8 731.5,778.0 740.5,777.8 743.5,778.2 749.5,777.7 755.5,778.1 757.5,777.4 759.0,777.8 765.5,777.4 767.0,777.8 769.5,777.3 773.5,777.7 780.5,777.4 782.5,777.9 791.0,777.5 792.5,777.8 799.0,777.2 802.0,777.6 805.0,777.2 806.5,777.7 813.0,777.6 815.0,777.2 822.0,777.8 824.5,777.3 826.5,777.6 832.5,777.4 837.0,777.9 838.5,777.4 840.0,777.9 842.0,777.5 847.0,778.0 850.5,777.6 853.5,778.2 857.5,777.5 862.0,778.0 871.5,777.9 873.0,777.6 875.5,778.2 878.0,777.9 880.0,778.5 884.0,777.9 891.0,778.3 893.0,778.0 895.0,778.3 900.5,778.0 902.5,778.4 904.0,777.9 908.0,778.4 910.0,777.8 912.0,778.1 918.0,778.3 921.0,777.9 927.0,778.5 929.0,778.0 934.5,777.8 938.0,778.2 940.0,778.8 946.0,779.4 952.5,778.2 961.5,778.2 963.0,777.8 964.5,778.2 968.5,778.1 972.5,778.5 976.0,778.1 984.5,778.0 987.5,778.4 989.0,778.1 992.0,778.4 999.5,778.0 1007.0,778.5 1010.0,778.0 1019.0,778.6 1022.0,778.1 1027.0,778.5 1028.5,778.1 1040.5,778.2 1044.5,777.8 1049.5,778.3 1053.0,778.0 1059.5,778.2 1066.5,777.8 1069.0,778.0 1070.5,777.5 1073.0,778.0 1076.5,777.8 1078.5,778.2 1081.0,777.7 1086.5,777.6 1098.5,778.0 1104.5,777.5 1107.0,778.0 1110.0,777.5 1115.5,777.7 1120.0,777.4 1121.5,777.9 1124.0,777.2 1126.0,777.1 1128.0,777.9 1129.5,777.2 1134.5,777.7 1143.5,777.4 1145.0,777.7 1149.5,777.2 1153.5,777.4 1155.0,777.0 1156.5,777.3 1162.0,777.2 1164.0,777.5 1170.0,776.9 1172.5,777.4 1178.0,777.0 1180.0,777.2 1182.0,776.6 1185.5,777.1 1195.0,776.6 1197.5,776.8 1208.5,775.8 1214.0,774.3 1216.0,773.4 1217.0,772.4 1218.5,770.3 1220.5,766.2 1222.0,760.4 1224.5,743.3 1230.5,664.9 1231.5,655.0 1232.0,653.4 1233.0,657.1 1235.5,681.2 1240.0,742.1 1241.5,754.1 1243.0,762.4 1244.0,765.3 1245.5,768.0 1250.0,772.8 1255.0,775.9 1262.0,778.1 1270.0,779.6 1276.0,779.9 1277.5,780.4 1288.5,781.5 1292.0,782.8 1296.0,783.4 1298.0,784.5 1307.0,786.6 1310.5,786.4 1316.0,784.8 1322.5,780.9 1326.5,779.3 1330.0,778.4 1338.5,776.8 1352.5,776.3 1356.0,775.6 1358.0,773.1 1359.0,770.0 1360.5,760.9 1362.0,747.9 1363.0,743.0 1364.0,740.2 1366.0,739.1 1367.0,739.9 1370.0,744.6 1372.5,752.7 1374.0,755.7 1380.0,762.2 1382.5,767.6 1387.5,768.0 1390.5,770.9 1394.5,770.9 1398.5,770.2 1400.0,769.4 1402.0,766.9 1404.0,761.7 1406.0,758.6 1408.0,759.2 1411.5,762.5 1420.0,763.8 1426.5,766.1 1429.0,766.1 1430.0,766.0 1436.5,762.6 1440.0,762.5 1445.5,761.5 1453.0,757.7 1461.5,756.2 1465.5,753.4 1467.5,751.2 1470.0,746.8 1471.5,746.1 1473.0,746.0 1476.0,747.2 1480.5,750.1 1481.5,750.4 1483.0,750.2 1486.0,748.7 1488.0,747.0 1492.0,741.3 1494.5,736.2 1496.5,731.0 1503.0,708.7 1506.0,700.8 1507.0,699.3 1509.5,698.7 1510.5,699.6 1513.5,704.1 1519.5,717.8 1521.5,726.3 1524.0,743.0 1524.5,743.5 1526.5,739.6 1527.5,739.3 1530.0,740.1 1532.5,743.5 1534.0,744.7 1535.0,743.7 1537.0,740.1 1540.5,739.5 1544.5,743.2 1547.0,748.3 1549.0,754.1 1550.5,756.2 1554.5,759.0 1561.0,762.2 1563.5,764.0 1565.5,764.1 1568.5,762.8 1572.5,762.7 1575.5,763.4 1581.0,765.4 1585.5,766.3 1593.0,766.6 1596.0,766.2 1597.5,766.6 1604.0,766.6 1607.0,767.4 1614.5,770.5 1618.0,771.4 1624.5,770.9 1628.5,769.7 1635.0,770.0 1646.0,771.8 1648.5,771.6 1663.5,775.2 1669.5,775.8 1672.0,776.5 1678.0,776.5 1694.5,772.5 1700.0,770.3 1702.0,769.8 1706.0,767.3 1709.5,758.8 1714.5,740.6 1716.0,737.2 1717.0,736.7 1719.0,742.3 1721.0,750.2 1722.5,753.6 1724.5,756.8 1728.0,759.5 1730.5,760.7 1737.0,767.0 1741.0,771.6 1746.5,775.4 1749.0,776.0 1759.0,776.3 1761.5,775.9 1764.0,776.4 1772.5,774.6 1777.5,773.0 1781.0,772.6 1787.0,773.6 1790.5,775.6 1793.5,776.5 1801.5,776.0 1804.0,775.3 1811.5,775.1 1816.0,774.2 1821.0,773.9" stroke="#03714a"/>
<path d="M165.0,928.3 166.5,928.5 168.0,927.9 169.5,928.3 171.0,927.9 173.5,928.6 176.5,928.1 181.5,928.0 184.5,928.6 187.0,928.5 188.5,928.0 193.5,928.9 197.0,928.0 198.0,928.2 199.5,927.9 202.0,928.7 204.0,928.4 206.0,930.0 207.5,928.7 208.5,928.3 213.0,928.3 215.0,927.8 218.5,928.3 221.5,927.6 223.0,928.4 226.5,927.9 228.0,928.4 229.5,927.8 230.5,928.1 233.0,929.9 235.0,928.4 237.0,927.6 240.5,928.3 248.0,927.8 252.5,928.9 255.5,927.7 259.5,928.3 263.5,928.0 265.0,927.6 272.5,928.2 275.5,928.2 277.0,927.7 279.0,928.1 283.5,928.0 285.5,929.1 287.0,928.2 289.5,927.6 292.5,928.5 294.5,927.8 296.0,928.1 298.5,927.8 300.5,926.8 302.5,927.9 304.0,927.7 305.5,928.1 308.0,927.7 312.5,928.7 315.5,927.4 320.0,928.0 321.5,927.2 322.5,927.1 324.5,927.8 326.5,927.2 328.0,925.6 329.0,925.3 331.5,927.2 335.5,927.4 337.0,928.0 339.0,927.7 342.0,929.4 345.0,928.0 347.0,927.6 348.5,928.4 351.0,928.8 355.5,928.5 357.5,929.1 360.0,928.8 361.5,929.4 366.5,930.1 368.5,928.4 370.5,929.9 373.0,930.7 377.0,930.8 384.5,932.2 388.5,932.0 391.5,933.1 397.0,933.3 403.5,934.5 405.0,934.2 406.5,934.6 408.0,934.3 410.0,935.0 411.5,934.6 413.0,935.1 419.0,935.7 420.5,935.3 422.5,935.7 424.0,935.4 426.0,936.1 436.0,935.7 438.0,937.0 441.0,936.3 442.5,936.6 444.0,936.2 445.5,936.7 447.0,936.2 452.5,936.6 459.0,936.2 462.5,936.8 464.5,936.4 467.5,936.8 469.5,936.5 475.5,936.7 480.5,936.1 482.0,936.7 485.0,936.6 486.5,937.3 490.0,936.2 492.0,936.7 493.5,936.4 495.0,936.7 499.0,936.0 501.0,936.7 502.5,936.2 505.0,936.1 506.5,936.5 509.0,936.2 512.5,936.5 515.0,935.9 518.0,936.5 521.0,935.7 526.5,936.2 531.0,935.3 532.5,935.7 533.5,935.4 535.0,935.8 536.5,935.2 539.0,934.9 541.5,935.5 543.0,934.9 550.5,934.9 552.5,934.4 554.5,934.6 556.5,934.3 559.5,934.6 565.5,934.0 571.0,934.2 574.0,933.5 575.5,933.7 578.0,933.3 582.0,933.2 583.5,933.6 585.5,932.9 587.5,933.3 590.5,933.2 594.5,932.4 596.5,933.1 598.5,932.8 600.0,933.2 601.5,932.5 604.0,932.6 605.5,932.2 607.5,932.7 610.0,932.0 611.5,932.1 613.0,931.5 615.5,931.7 618.5,931.2 619.5,931.5 624.0,930.7 628.5,928.0 631.5,923.8 634.0,921.1 635.0,920.6 636.5,921.2 640.0,925.1 641.5,926.0 643.5,925.8 646.5,924.0 649.0,920.3 651.5,914.0 655.0,901.5 656.5,897.7 658.5,895.3 661.0,893.6 664.0,892.2 665.0,890.5 667.5,870.9 672.0,823.5 674.0,812.9 675.0,809.6 675.5,809.1 676.0,809.5 677.0,812.7 678.5,821.1 681.0,848.7 684.5,874.4 687.5,889.5 690.5,899.6 693.0,904.0 694.5,905.3 695.5,905.4 698.5,902.6 700.5,899.5 701.5,897.2 703.5,888.4 707.0,847.4 708.0,844.0 708.5,843.9 709.5,848.4 710.5,856.2 713.5,894.4 715.5,910.5 718.0,918.8 720.5,923.2 723.5,926.2 728.5,928.4 737.0,929.4 741.0,929.2 743.5,929.6 751.5,928.9 754.0,929.4 757.5,928.8 760.0,929.1 766.5,928.8 769.0,929.2 778.0,928.7 780.5,929.1 788.5,928.7 790.5,929.1 794.0,928.6 801.0,929.0 807.0,928.8 814.0,929.0 817.0,928.7 824.5,929.1 827.5,928.6 829.0,929.2 832.5,928.8 836.5,929.3 849.5,929.1 851.0,928.8 855.0,929.4 863.5,929.0 865.5,929.4 868.0,928.9 878.5,929.5 891.5,929.2 899.0,929.7 900.5,929.2 915.0,929.5 917.0,929.2 923.5,929.5 925.5,929.1 927.5,929.6 929.5,929.1 933.5,929.6 936.5,929.3 946.5,930.8 952.5,929.5 958.5,929.2 970.0,929.7 973.5,929.3 978.0,929.7 983.5,929.3 994.5,929.8 999.5,929.5 1002.0,929.8 1009.5,929.4 1016.5,929.8 1021.5,929.4 1027.0,929.7 1032.0,929.2 1036.0,929.6 1040.5,929.2 1051.5,929.7 1054.5,929.2 1072.5,929.4 1074.5,929.1 1079.5,929.3 1083.0,928.9 1086.0,929.4 1087.5,929.0 1091.5,929.3 1098.0,928.9 1101.5,929.1 1103.5,928.7 1112.5,929.0 1116.0,928.6 1122.5,929.1 1124.0,928.6 1125.5,929.0 1127.5,928.5 1136.5,929.1 1152.5,928.4 1163.5,928.6 1166.5,928.2 1168.0,928.5 1169.5,928.2 1173.5,928.5 1189.5,928.3 1205.0,927.6 1213.5,925.6 1216.5,924.2 1219.5,919.6 1221.5,913.7 1224.5,893.4 1229.0,831.4 1231.0,807.2 1232.0,801.1 1233.0,805.1 1235.5,830.1 1240.0,892.3 1241.5,904.5 1243.0,913.1 1245.5,918.9 1247.5,921.7 1249.5,923.5 1252.5,925.7 1256.0,927.4 1259.5,928.7 1265.0,930.1 1272.5,931.4 1283.0,932.0 1293.5,934.2 1305.5,937.6 1310.5,937.7 1314.5,936.6 1323.5,931.7 1328.5,930.0 1340.5,928.0 1350.5,927.7 1356.0,926.8 1358.0,924.4 1359.0,921.1 1360.5,912.2 1362.0,899.1 1363.0,894.2 1364.0,891.4 1366.0,890.4 1367.5,891.8 1370.5,897.2 1372.0,902.5 1373.5,906.0 1375.5,908.8 1378.0,910.9 1380.5,914.3 1382.5,918.9 1387.5,919.2 1390.0,922.0 1391.0,922.4 1398.0,921.8 1399.0,921.4 1402.0,918.1 1404.0,913.0 1406.0,910.1 1407.5,910.3 1411.0,913.3 1415.0,914.4 1421.0,915.2 1426.0,917.3 1428.5,917.5 1438.0,913.6 1445.5,912.8 1452.0,908.9 1458.0,908.4 1462.5,907.1 1467.0,903.0 1470.0,898.1 1471.5,897.4 1474.0,897.6 1478.5,900.3 1481.5,901.6 1482.5,901.5 1487.0,899.0 1490.0,895.8 1492.0,892.8 1494.5,887.5 1496.5,881.9 1502.0,862.6 1505.5,852.7 1507.0,849.9 1509.0,849.3 1510.5,850.4 1513.5,854.9 1519.5,868.6 1521.5,877.0 1524.0,894.1 1524.5,894.5 1525.0,893.9 1526.5,890.8 1527.0,890.4 1528.0,890.6 1530.0,891.2 1533.0,895.4 1534.0,896.1 1535.0,895.0 1537.0,891.3 1539.5,890.5 1540.5,890.7 1543.0,892.8 1545.0,895.5 1547.0,899.5 1549.0,905.3 1550.5,907.5 1551.5,908.5 1556.0,911.1 1560.5,913.2 1564.0,915.7 1568.5,914.2 1574.0,914.3 1579.5,916.3 1584.5,917.0 1586.5,917.7 1597.0,917.9 1599.0,917.6 1604.5,918.1 1611.5,920.2 1617.0,922.4 1619.0,922.8 1631.0,921.0 1646.5,922.8 1668.5,927.3 1678.0,927.9 1680.5,927.7 1689.0,925.3 1691.5,925.0 1695.0,923.7 1702.5,921.0 1706.0,918.5 1707.0,916.9 1709.0,911.7 1714.0,893.0 1715.5,889.4 1716.5,888.1 1717.0,888.0 1718.5,891.8 1721.0,901.8 1724.0,907.4 1725.0,908.5 1732.0,913.4 1736.0,917.1 1741.0,922.8 1744.5,925.7 1748.0,927.4 1751.5,927.7 1759.0,927.3 1764.5,927.6 1779.0,924.2 1783.0,924.3 1788.0,925.6 1791.5,927.3 1795.0,927.6 1821.0,925.4" stroke="#03478c"/>
<path d="M165.0,1077.8 165.5,1077.6 167.5,1078.2 173.5,1077.7 176.0,1078.4 179.0,1077.8 182.5,1078.1 185.0,1077.6 187.0,1078.1 192.5,1078.3 195.0,1077.9 197.5,1078.1 199.0,1077.4 201.0,1078.1 204.0,1078.2 206.5,1079.2 208.5,1077.8 210.5,1078.2 213.5,1077.8 215.0,1078.1 216.5,1077.6 218.0,1077.9 221.5,1077.3 226.5,1078.1 229.0,1077.5 230.0,1077.7 233.0,1079.6 235.0,1078.1 241.5,1077.6 243.5,1078.2 246.0,1076.9 247.5,1077.6 251.0,1077.9 253.5,1079.3 256.5,1077.4 260.0,1077.9 263.0,1076.9 264.5,1077.4 274.0,1077.5 276.0,1078.0 278.0,1077.3 280.0,1077.8 283.0,1077.6 284.0,1077.8 285.5,1079.0 287.5,1077.9 289.0,1077.5 292.5,1077.0 294.0,1077.6 295.5,1077.1 297.0,1077.7 300.0,1076.5 302.0,1077.2 308.5,1077.0 312.0,1078.7 314.5,1077.0 316.0,1077.2 318.0,1076.9 321.0,1077.4 324.0,1076.9 326.0,1077.1 327.5,1075.5 329.5,1074.8 332.5,1077.2 335.5,1077.1 338.0,1077.7 339.5,1077.4 342.0,1079.2 344.0,1078.0 348.0,1078.2 349.5,1077.8 351.0,1078.3 352.5,1077.8 356.0,1078.8 357.5,1078.6 359.5,1079.0 361.5,1078.6 363.0,1079.3 366.0,1079.6 367.0,1079.4 368.5,1078.1 372.0,1080.2 375.0,1080.3 379.5,1081.7 382.5,1081.6 386.0,1082.4 387.5,1082.1 389.5,1082.4 391.5,1083.2 393.0,1082.9 398.0,1083.2 400.0,1084.4 404.5,1083.9 408.0,1084.9 410.0,1084.2 417.5,1085.8 419.0,1085.2 420.5,1085.7 422.5,1085.3 424.0,1085.6 425.5,1085.3 429.0,1086.0 436.5,1086.0 438.0,1086.5 440.5,1085.8 443.0,1086.7 444.0,1086.5 450.0,1086.7 452.0,1086.3 453.0,1086.6 455.0,1086.6 456.5,1087.3 458.5,1086.5 462.0,1087.1 464.5,1086.6 466.0,1086.9 471.5,1086.3 474.5,1087.2 476.5,1086.6 482.5,1086.9 485.0,1086.4 486.0,1086.8 487.5,1086.6 489.0,1086.9 493.5,1086.2 497.0,1086.7 499.5,1086.2 501.5,1086.7 503.5,1086.3 505.5,1086.7 508.0,1086.0 509.5,1086.5 512.0,1086.5 518.0,1085.7 521.5,1086.0 527.0,1085.5 530.0,1085.9 532.5,1085.3 534.0,1085.6 538.5,1085.2 540.0,1085.7 541.5,1085.2 544.5,1085.2 546.5,1084.6 548.5,1085.1 553.0,1084.4 556.5,1085.2 560.0,1084.1 562.0,1084.5 563.5,1083.8 569.5,1084.1 571.5,1083.3 573.0,1084.1 576.5,1083.3 579.0,1083.5 581.5,1083.0 583.5,1083.5 588.5,1082.9 597.5,1082.8 601.0,1081.8 603.5,1082.1 605.0,1082.7 606.5,1081.9 608.5,1082.2 610.0,1081.5 611.5,1081.9 620.5,1081.0 624.0,1080.2 627.0,1078.7 634.0,1070.8 635.0,1070.3 636.5,1070.8 640.0,1074.7 641.5,1075.7 644.5,1074.9 646.5,1073.5 648.5,1071.1 650.5,1066.4 653.0,1058.8 655.5,1049.1 656.5,1046.7 661.0,1042.7 663.0,1041.9 664.5,1040.7 665.5,1037.0 667.0,1024.6 672.0,971.9 674.0,960.9 675.0,957.7 675.5,957.2 676.0,957.7 677.0,960.9 678.5,969.2 681.0,997.5 684.5,1023.6 687.0,1036.7 690.5,1048.8 693.5,1053.9 694.5,1054.6 695.5,1054.7 698.5,1051.9 700.5,1048.9 701.5,1046.5 703.5,1037.3 707.0,996.1 708.0,992.8 708.5,992.7 709.5,997.2 710.5,1004.9 713.5,1043.7 715.0,1056.9 716.0,1062.0 718.0,1068.5 719.0,1070.5 721.5,1073.9 724.5,1076.3 730.5,1078.5 736.0,1079.1 740.5,1079.1 742.0,1078.8 748.0,1079.2 753.0,1078.7 755.0,1079.2 759.0,1078.4 763.0,1078.7 771.5,1078.4 774.0,1078.7 784.5,1078.4 788.0,1078.7 793.5,1078.3 800.0,1078.7 802.0,1078.3 808.5,1078.9 810.0,1078.5 825.0,1078.4 832.5,1079.0 836.0,1078.4 843.0,1079.2 844.5,1078.8 848.5,1078.7 858.0,1079.0 865.5,1078.8 871.0,1079.2 878.5,1078.8 888.5,1079.2 897.0,1078.9 898.5,1079.2 900.5,1078.9 907.5,1079.1 909.0,1079.4 923.5,1078.8 931.5,1079.3 938.0,1079.1 940.0,1079.9 945.5,1080.4 949.5,1080.0 951.0,1079.2 953.0,1079.4 957.0,1078.9 959.0,1079.3 964.0,1078.9 966.0,1079.3 970.0,1078.9 979.0,1079.3 985.0,1079.1 988.5,1079.4 994.0,1079.1 998.0,1079.6 1006.5,1079.0 1010.0,1079.7 1012.0,1079.0 1014.0,1079.4 1022.0,1078.9 1023.5,1079.2 1026.5,1078.8 1030.5,1079.3 1041.5,1079.0 1045.5,1079.4 1051.0,1079.0 1055.5,1079.4 1059.5,1079.0 1063.5,1079.2 1067.5,1078.7 1073.0,1079.1 1085.5,1078.6 1087.5,1079.0 1096.5,1078.6 1099.5,1078.8 1101.0,1078.5 1110.0,1078.8 1111.5,1078.4 1113.0,1078.9 1114.5,1078.5 1118.5,1078.7 1127.0,1078.3 1130.5,1078.8 1133.0,1078.2 1137.5,1078.5 1148.0,1078.0 1150.0,1078.4 1162.0,1078.1 1170.5,1078.4 1175.0,1077.9 1176.5,1078.3 1178.5,1078.0 1180.0,1078.4 1184.5,1078.0 1186.5,1078.4 1188.5,1077.8 1195.5,1077.9 1199.5,1077.3 1205.0,1077.2 1209.5,1076.5 1216.0,1074.4 1218.0,1072.0 1220.0,1068.4 1221.5,1063.5 1224.5,1043.5 1230.5,964.1 1231.5,954.1 1232.0,952.5 1233.0,956.4 1235.5,980.8 1240.0,1042.5 1243.0,1063.2 1244.0,1066.1 1246.5,1070.1 1249.5,1073.2 1255.5,1077.0 1263.0,1079.4 1272.5,1080.9 1288.0,1082.5 1295.5,1084.2 1297.0,1085.0 1306.5,1087.5 1309.0,1087.7 1316.5,1085.5 1324.5,1081.0 1329.0,1079.7 1338.5,1078.0 1355.5,1076.9 1357.0,1075.5 1358.5,1072.7 1360.5,1061.8 1362.5,1046.2 1364.0,1041.1 1365.5,1040.1 1366.5,1040.3 1369.5,1044.7 1373.5,1055.7 1375.5,1058.4 1380.5,1063.9 1382.5,1068.4 1387.5,1069.1 1390.0,1071.8 1391.0,1072.2 1398.0,1071.4 1399.5,1070.7 1402.0,1068.0 1404.0,1062.7 1405.5,1060.2 1406.5,1059.6 1407.5,1060.0 1410.0,1062.6 1411.0,1063.1 1415.0,1064.3 1419.0,1064.6 1425.0,1066.6 1428.5,1067.3 1431.0,1066.5 1435.5,1064.1 1446.5,1062.0 1452.0,1058.9 1460.0,1057.6 1462.0,1056.9 1466.5,1053.5 1467.5,1052.3 1469.5,1048.4 1471.0,1047.3 1473.5,1047.1 1481.0,1051.2 1483.5,1050.6 1486.5,1048.9 1488.5,1047.2 1492.5,1041.3 1496.0,1033.0 1502.0,1012.0 1505.5,1002.0 1507.0,999.3 1509.0,998.7 1510.5,999.5 1513.0,1003.3 1519.0,1016.6 1521.5,1026.7 1524.0,1043.8 1524.5,1044.2 1526.5,1040.5 1528.0,1040.1 1530.0,1041.0 1533.0,1044.8 1534.0,1045.6 1535.0,1044.6 1537.0,1040.8 1538.0,1040.4 1541.0,1040.7 1542.5,1041.8 1544.5,1044.4 1546.5,1048.1 1549.0,1055.0 1550.0,1056.6 1554.0,1059.8 1560.5,1062.9 1564.0,1065.4 1568.5,1063.8 1570.5,1063.8 1575.5,1064.6 1580.0,1066.2 1588.5,1067.5 1603.5,1067.5 1618.0,1072.3 1622.5,1072.2 1625.0,1071.3 1628.0,1071.0 1634.0,1070.9 1646.5,1072.5 1654.5,1073.9 1661.5,1075.6 1674.5,1077.6 1682.5,1077.0 1697.0,1072.7 1704.5,1069.7 1706.0,1068.4 1709.5,1059.8 1714.0,1042.7 1716.0,1038.3 1717.0,1037.8 1719.0,1043.3 1721.0,1051.5 1723.5,1056.4 1726.0,1059.0 1731.0,1062.1 1735.0,1065.8 1741.0,1072.5 1747.5,1077.0 1758.0,1077.4 1765.0,1077.2 1779.0,1073.8 1784.5,1074.2 1788.0,1075.3 1792.0,1077.4 1794.0,1077.0 1803.5,1076.8 1808.5,1076.0 1810.5,1076.2 1821.0,1075.0" stroke="#c20e0e"/>
<path d="M165.0,1227.3 166.5,1227.1 168.0,1227.5 171.5,1227.7 174.0,1227.3 188.5,1227.7 202.0,1227.5 203.5,1227.7 206.0,1228.9 208.0,1227.6 210.5,1227.3 217.5,1227.6 221.0,1226.7 224.0,1227.5 230.5,1227.5 233.0,1229.1 235.0,1227.7 238.0,1227.2 249.5,1227.3 253.0,1228.5 255.0,1227.3 258.0,1227.1 265.0,1227.5 267.0,1227.0 270.5,1227.4 278.5,1227.1 283.5,1227.5 285.5,1228.7 288.0,1227.4 296.5,1227.2 300.0,1226.3 302.5,1227.2 309.5,1227.2 312.0,1228.2 316.0,1226.9 319.0,1227.1 320.5,1226.7 324.0,1227.0 326.5,1226.4 329.0,1224.6 332.5,1226.8 336.0,1227.2 339.5,1227.1 342.0,1228.8 345.0,1227.4 366.0,1228.6 368.5,1227.4 371.5,1229.2 374.0,1229.7 379.0,1229.8 383.0,1230.7 396.0,1231.8 399.0,1231.8 404.0,1232.5 410.5,1232.7 414.5,1233.2 422.0,1233.1 427.0,1233.8 435.0,1233.7 438.0,1234.1 442.5,1233.8 448.5,1234.5 450.5,1234.0 463.5,1234.4 465.0,1234.1 471.5,1234.6 475.0,1234.1 485.5,1234.4 497.0,1234.2 499.0,1234.5 507.0,1234.0 509.0,1234.4 512.5,1233.8 515.5,1234.1 523.5,1233.6 534.5,1233.5 537.0,1233.1 538.5,1233.4 546.0,1232.8 549.5,1233.1 554.0,1232.6 560.5,1232.6 563.0,1232.1 573.0,1232.1 575.0,1231.7 585.0,1231.7 594.0,1231.2 595.5,1231.4 600.5,1230.9 602.5,1231.3 624.0,1229.5 628.5,1226.8 633.0,1221.2 634.5,1220.0 635.5,1219.9 636.5,1220.4 640.0,1224.3 641.5,1225.1 644.5,1224.3 647.5,1222.0 649.0,1219.6 651.5,1213.2 655.5,1199.3 656.5,1197.0 659.0,1194.6 664.0,1191.8 665.0,1190.1 667.5,1171.1 671.5,1128.2 674.0,1113.8 675.0,1110.7 675.5,1110.2 676.0,1110.6 677.0,1113.7 678.5,1122.0 681.0,1149.3 684.5,1174.4 687.5,1189.2 690.5,1199.2 693.5,1203.9 694.5,1204.7 695.5,1204.7 697.0,1203.8 698.5,1202.1 700.5,1199.1 701.5,1196.7 703.5,1188.1 707.0,1148.0 708.0,1144.8 708.5,1144.7 709.5,1149.0 710.5,1156.5 713.5,1194.1 715.0,1206.8 716.0,1211.9 718.0,1218.0 721.0,1222.8 723.0,1224.8 725.0,1226.1 729.0,1227.4 733.0,1228.2 743.5,1228.5 753.5,1228.0 794.0,1227.7 860.0,1228.0 885.0,1228.5 936.0,1228.3 946.0,1229.8 953.5,1228.4 1004.5,1228.8 1012.5,1228.4 1035.0,1228.7 1070.5,1228.1 1077.5,1228.4 1091.5,1227.9 1094.0,1228.2 1127.0,1227.6 1131.5,1227.9 1138.0,1227.6 1189.0,1227.3 1205.0,1226.4 1210.5,1225.6 1216.0,1223.7 1219.0,1219.7 1220.5,1216.4 1221.5,1212.9 1224.5,1192.9 1229.0,1131.7 1231.0,1107.8 1232.0,1102.0 1232.5,1103.0 1233.5,1109.8 1235.5,1130.3 1240.0,1191.9 1241.5,1204.0 1243.0,1212.4 1244.0,1215.3 1245.5,1218.0 1247.5,1220.6 1250.0,1222.9 1255.5,1226.2 1265.0,1229.0 1287.0,1231.8 1297.0,1233.9 1303.5,1236.1 1308.0,1237.0 1313.0,1236.0 1317.5,1234.3 1324.0,1230.5 1330.0,1228.7 1337.0,1227.4 1350.0,1226.8 1356.0,1225.9 1358.0,1223.4 1359.0,1220.1 1360.5,1211.2 1362.0,1198.2 1363.0,1193.3 1364.0,1190.4 1366.0,1189.4 1367.0,1190.1 1370.0,1195.1 1372.5,1202.8 1374.0,1205.9 1380.0,1212.4 1382.5,1217.8 1387.5,1218.4 1390.5,1221.2 1398.0,1220.6 1400.0,1219.5 1402.0,1217.1 1404.0,1212.0 1406.0,1208.9 1407.5,1209.4 1411.5,1212.6 1421.5,1214.5 1428.0,1216.5 1430.0,1216.1 1436.0,1213.3 1446.5,1211.4 1452.0,1208.3 1454.5,1207.6 1459.0,1207.2 1461.5,1206.5 1463.5,1205.3 1466.5,1202.7 1470.0,1197.1 1471.5,1196.4 1474.5,1196.9 1480.5,1200.4 1483.0,1200.3 1486.5,1198.4 1488.5,1196.7 1490.5,1194.2 1493.0,1189.9 1496.0,1182.8 1502.5,1160.8 1505.5,1152.5 1507.0,1149.8 1509.0,1149.3 1510.5,1150.2 1513.5,1154.8 1519.5,1168.2 1521.5,1176.4 1524.0,1193.3 1524.5,1193.8 1525.0,1193.3 1526.5,1190.0 1527.0,1189.7 1530.0,1190.5 1533.0,1194.5 1534.0,1195.1 1535.0,1194.0 1537.0,1190.5 1539.0,1189.8 1541.0,1190.0 1543.5,1192.2 1544.5,1193.6 1546.5,1197.4 1549.0,1204.2 1550.0,1205.8 1553.0,1208.5 1559.5,1211.7 1563.0,1214.3 1564.0,1214.7 1565.5,1214.5 1568.5,1213.2 1570.5,1213.1 1575.5,1213.7 1579.5,1215.3 1587.5,1216.6 1602.5,1216.8 1605.0,1217.2 1618.0,1221.7 1621.5,1221.5 1628.5,1220.2 1633.0,1220.2 1650.0,1222.4 1667.0,1225.8 1676.0,1226.9 1681.0,1226.5 1690.5,1224.0 1699.5,1221.0 1704.0,1219.1 1706.0,1217.5 1707.5,1214.7 1709.5,1209.0 1714.0,1192.1 1716.0,1187.5 1717.0,1187.0 1718.0,1189.1 1721.0,1200.7 1723.5,1205.8 1725.5,1207.9 1730.0,1210.7 1734.0,1214.3 1741.0,1221.8 1745.0,1224.8 1747.5,1226.1 1754.0,1226.6 1765.5,1226.4 1780.0,1223.0 1785.5,1223.7 1793.0,1226.5 1805.0,1226.0 1819.0,1224.3 1821.0,1224.4" stroke="#303030"/>
</g>
<g stroke="#000" stroke-width="1.3">
<line x1="633" y1="72" x2="674.5" y2="66.1"/>
<line x1="711.3" y1="99.3" x2="749.3" y2="86.3"/>
<line x1="1233.4" y1="64.1" x2="1290.5" y2="73.4"/>
<line x1="1367" y1="145.2" x2="1398.8" y2="139"/>
<line x1="1507.5" y1="108" x2="1541.7" y2="101.7"/>
<line x1="1717.1" y1="146" x2="1745.3" y2="141.6"/>
<line x1="627.6" y1="220.9" x2="675.2" y2="215.4"/>
<line x1="706.9" y1="243.7" x2="742.7" y2="236.4"/>
<line x1="1234" y1="208.4" x2="1274.5" y2="216.2"/>
<line x1="1367" y1="297.4" x2="1398.8" y2="291.2"/>
<line x1="1507.5" y1="255.5" x2="1537" y2="250"/>
<line x1="1718.8" y1="290.2" x2="1750.6" y2="284"/>
<line x1="630.1" y1="372.2" x2="676.8" y2="368.5"/>
<line x1="706.9" y1="393.5" x2="745.2" y2="383.5"/>
<line x1="1234.8" y1="356" x2="1283.7" y2="367.3"/>
<line x1="1366.8" y1="445.7" x2="1397.5" y2="440"/>
<line x1="1507.6" y1="408.2" x2="1538.2" y2="402.6"/>
<line x1="1717.6" y1="437.1" x2="1748.7" y2="431"/>
<line x1="633.5" y1="515" x2="681.8" y2="510"/>
<line x1="710.2" y1="544.2" x2="749.4" y2="535.1"/>
<line x1="1233.3" y1="507.7" x2="1280.1" y2="524"/>
<line x1="1368" y1="592.9" x2="1397.5" y2="587.7"/>
<line x1="1509.9" y1="552.7" x2="1538.2" y2="549"/>
<line x1="1718.8" y1="584.9" x2="1750.6" y2="577.4"/>
<line x1="633.5" y1="664.4" x2="681" y2="658.2"/>
<line x1="712.7" y1="690" x2="748.6" y2="682.5"/>
<line x1="1234" y1="654.5" x2="1281.6" y2="668"/>
<line x1="1368" y1="745" x2="1397.5" y2="740.5"/>
<line x1="1511" y1="697.3" x2="1541.7" y2="691.7"/>
<line x1="1719.9" y1="741.6" x2="1751.7" y2="735.9"/>
<line x1="626.8" y1="817.7" x2="673.5" y2="812.2"/>
<line x1="706.9" y1="842.7" x2="751.9" y2="832.7"/>
<line x1="1235.5" y1="808.4" x2="1278.7" y2="821.2"/>
<line x1="1368" y1="892.9" x2="1397.5" y2="888.3"/>
<line x1="1507.6" y1="849.7" x2="1556.4" y2="844.5"/>
<line x1="1717.6" y1="888.3" x2="1748.3" y2="882.7"/>
<line x1="626.8" y1="964.2" x2="674.3" y2="958.7"/>
<line x1="706" y1="988.1" x2="741.9" y2="980"/>
<line x1="1234.8" y1="952.4" x2="1286.5" y2="974.4"/>
<line x1="1363.4" y1="1040.5" x2="1396.3" y2="1034.8"/>
<line x1="1508.7" y1="1000.7" x2="1540.5" y2="996.2"/>
<line x1="1717.6" y1="1037.1" x2="1748.3" y2="1031.4"/>
<line x1="621.8" y1="1115.4" x2="670.2" y2="1110.9"/>
<line x1="711.9" y1="1147.6" x2="756.9" y2="1138.4"/>
<line x1="1234.8" y1="1103.1" x2="1283.7" y2="1118"/>
<line x1="1370.1" y1="1188.7" x2="1401.4" y2="1181.6"/>
<line x1="1518.4" y1="1150.5" x2="1565.9" y2="1142.9"/>
<line x1="1720" y1="1188" x2="1745.5" y2="1183.9"/>
</g>
<g font-size="28.5">
<text x="540.2" y="85.9">2919.70</text>
<text x="752.2" y="97.4">2850.75</text>
<text x="1295.3" y="78.8">1743.81</text>
<text x="1398.5" y="142.0">1456.96</text>
<text x="1545.3" y="111.7">1160.45</text>
<text x="1751.5" y="146.8">720.28</text>
<text x="533.4" y="237.4">2919.70</text>
<text x="753.1" y="242.5">2850.75</text>
<text x="1279.7" y="227.1">1743.81</text>
<text x="1398.5" y="291.1">1462.74</text>
<text x="1541.4" y="261.6">1160.45</text>
<text x="1755.7" y="290.1">720.76</text>
<text x="533.4" y="385.1">2920.18</text>
<text x="757.8" y="393.8">2851.23</text>
<text x="1288.9" y="387.3">1743.33</text>
<text x="1398.3" y="435.4">1463.22</text>
<text x="1544.7" y="411.6">1160.45</text>
<text x="1754.5" y="437.0">720.76</text>
<text x="540.1" y="525.8">2920.18</text>
<text x="759.5" y="539.5">2821.23</text>
<text x="1286.1" y="537.9">1743.33</text>
<text x="1396.0" y="587.1">1463.22</text>
<text x="1542.5" y="549.6">1160.45</text>
<text x="1755.7" y="587.1">720.76</text>
<text x="533.4" y="673.4">2920.18</text>
<text x="753.1" y="693.6">2851.23</text>
<text x="1283.9" y="682.1">1743.33</text>
<text x="1397.1" y="741.5">1463.22</text>
<text x="1543.6" y="699.5">1160.45</text>
<text x="1755.7" y="741.5">720.76</text>
<text x="528.4" y="831.8">2921.15</text>
<text x="756.1" y="840.1">2851.72</text>
<text x="1282.5" y="832.2">1743.33</text>
<text x="1401.7" y="887.6">1463.22</text>
<text x="1557.2" y="851.9">1160.45</text>
<text x="1752.3" y="883.7">721.73</text>
<text x="533.4" y="976.1">2920.18</text>
<text x="739.4" y="988.3">2851.72</text>
<text x="1286.1" y="989.9">1743.33</text>
<text x="1392.6" y="1037.0">1463.22</text>
<text x="1545.9" y="998.4">1160.45</text>
<text x="1750.0" y="1037.0">721.25</text>
<text x="528.4" y="1137.9">2921.15</text>
<text x="760.3" y="1152.5">2852.20</text>
<text x="1290.3" y="1134.7">1743.33</text>
<text x="1398.1" y="1181.5">1463.22</text>
<text x="1566.8" y="1148.1">1160.45</text>
<text x="1747.2" y="1185.6">721.72</text>
</g>
<g stroke="#000" stroke-width="5" stroke-linecap="butt">
<line x1="164.5" y1="54" x2="164.5" y2="1281"/>
<line x1="162" y1="1278.3" x2="1823.8" y2="1278.3"/>
<line x1="1821.3" y1="1276" x2="1821.3" y2="1301"/>
<line x1="164.5" y1="1278" x2="164.5" y2="1301"/>
<line x1="282.8" y1="1278" x2="282.8" y2="1289"/>
<line x1="401.2" y1="1278" x2="401.2" y2="1301"/>
<line x1="519.5" y1="1278" x2="519.5" y2="1289"/>
<line x1="637.9" y1="1278" x2="637.9" y2="1301"/>
<line x1="756.2" y1="1278" x2="756.2" y2="1289"/>
<line x1="874.6" y1="1278" x2="874.6" y2="1301"/>
<line x1="992.9" y1="1278" x2="992.9" y2="1289"/>
<line x1="1111.2" y1="1278" x2="1111.2" y2="1301"/>
<line x1="1229.6" y1="1278" x2="1229.6" y2="1289"/>
<line x1="1347.9" y1="1278" x2="1347.9" y2="1301"/>
<line x1="1466.3" y1="1278" x2="1466.3" y2="1289"/>
<line x1="1584.6" y1="1278" x2="1584.6" y2="1301"/>
<line x1="1703.0" y1="1278" x2="1703.0" y2="1289"/>
<line x1="1821.3" y1="1278" x2="1821.3" y2="1301"/>
</g>
<g font-size="51" text-anchor="middle">
<text x="164.5" y="1361">4000</text>
<text x="401.2" y="1361">3500</text>
<text x="637.9" y="1361">3000</text>
<text x="874.6" y="1361">2500</text>
<text x="1111.2" y="1361">2000</text>
<text x="1347.9" y="1361">1500</text>
<text x="1584.6" y="1361">1000</text>
<text x="1821.3" y="1361">500</text>
</g>
<g stroke-width="4.8" stroke-linecap="butt">
<line x1="1904" y1="452.4" x2="2037" y2="452.4" stroke="#553232"/>
<line x1="1904" y1="522.8" x2="2037" y2="522.8" stroke="#058a8a"/>
<line x1="1904" y1="593.2" x2="2037" y2="593.2" stroke="#8c6608"/>
<line x1="1904" y1="663.6" x2="2037" y2="663.6" stroke="#7f3699"/>
<line x1="1904" y1="734.0" x2="2037" y2="734.0" stroke="#03714a"/>
<line x1="1904" y1="804.4" x2="2037" y2="804.4" stroke="#03478c"/>
<line x1="1904" y1="874.9" x2="2037" y2="874.9" stroke="#c20e0e"/>
<line x1="1904" y1="945.3" x2="2037" y2="945.3" stroke="#303030"/>
</g>
<g font-size="57.5">
<text x="2049" y="471.2">B10</text>
<text x="2049" y="541.6">B9</text>
<text x="2049" y="612.0">B8</text>
<text x="2049" y="682.4">B7</text>
<text x="2049" y="752.8">B6</text>
<text x="2049" y="823.2">B5</text>
<text x="2049" y="893.7">B4</text>
<text x="2049" y="964.1">B3</text>
</g>
<g transform="translate(15.8,58.7) scale(0.9,1)"><text x="-0.5" y="0" font-size="58">A</text></g>
<g transform="translate(772.5,1451) scale(0.951,1)"><text x="0" y="0" font-size="60">Wavenumber(cm</text></g>
<g transform="translate(1166.4,1426.9) scale(0.8,1)"><text x="0" y="0" font-size="39">-</text></g>
<g transform="translate(1182.7,1426.9) scale(0.72,1)"><text x="-4" y="0" font-size="39">1</text></g>
<g transform="translate(1198.3,1451) scale(0.951,1)"><text x="-1.3" y="0" font-size="60">)</text></g>
<g transform="translate(85.3,908.4) rotate(-90)">
<text transform="scale(1.04,1)" x="-1" y="0" font-size="55">Transmittence</text>
<text x="330.2" y="-4" font-size="46" style="font-family:'Noto Serif CJK SC',serif;font-weight:300">（</text>
<text x="383.6" y="0" font-size="55">%</text>
<text x="435.8" y="-4" font-size="46" style="font-family:'Noto Serif CJK SC',serif;font-weight:300">）</text>
</g>
</svg>
</body></html>
